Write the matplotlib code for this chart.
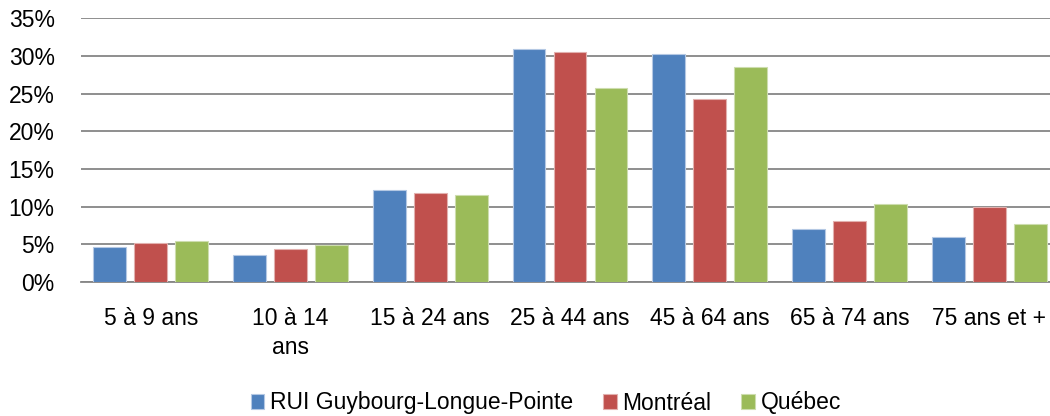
import matplotlib
matplotlib.use("Agg")
import matplotlib.pyplot as plt
import numpy as np
from matplotlib.ticker import FuncFormatter

plt.rcParams['font.family'] = ['Liberation Sans', 'DejaVu Sans']

categories = ["5 à 9 ans", "10 à 14\nans", "15 à 24 ans", "25 à 44 ans",
              "45 à 64 ans", "65 à 74 ans", "75 ans et +"]
series_names = ["RUI Guybourg-Longue-Pointe", "Montréal", "Québec"]
rui = [4.6, 3.6, 12.2, 30.9, 30.2, 7.1, 6.0]
montreal = [5.2, 4.4, 11.8, 30.5, 24.3, 8.1, 9.9]
quebec = [5.5, 4.9, 11.6, 25.7, 28.6, 10.4, 7.7]
colors = ["#4F81BD", "#C0504D", "#9BBB59"]
edges = ["#B4C8E3", "#E2B0AE", "#CDDDAE"]
yticks = [0, 5, 10, 15, 20, 25, 30, 35]

fig = plt.figure(figsize=(10.5, 4.16), dpi=100)
ax = fig.add_axes([81/1050, (416-282)/416, 978/1050, (282-18.3)/416])

x = np.arange(len(categories))
step = 0.2935
width = 0.236
for i, (vals, c, ec, name) in enumerate(zip([rui, montreal, quebec], colors, edges, series_names)):
    ax.bar(x + (i - 1) * step, vals, width=width, color=c, edgecolor=ec,
           linewidth=0.8, label=name, zorder=3)

ax.set_xlim(-0.5, len(categories) - 0.5)
ax.set_ylim(0, 35)
ax.set_yticks(yticks)
ax.yaxis.set_major_formatter(FuncFormatter(lambda v, p: f"{int(v)}%"))
ax.set_xticks(x)
ax.set_xticklabels(categories, multialignment='center', linespacing=1.35)
ax.grid(axis='y', color='#868686', linewidth=1.3, zorder=0)
ax.set_axisbelow(True)
for s in ['top', 'right', 'left']:
    ax.spines[s].set_visible(False)
ax.spines['bottom'].set_color('#868686')
ax.spines['bottom'].set_linewidth(1.3)
ax.tick_params(axis='y', length=0, pad=19, labelsize=16.5, colors='black')
ax.tick_params(axis='x', length=0, pad=18, labelsize=16.5, colors='black')

fig.legend(loc='center', bbox_to_anchor=(546/1050, 1 - 403/416), ncol=3,
           frameon=False, fontsize=16.5, handlelength=0.6, handleheight=0.6,
           handletextpad=0.25, columnspacing=1.3, borderaxespad=0)

fig.savefig("out.png", dpi=100)
